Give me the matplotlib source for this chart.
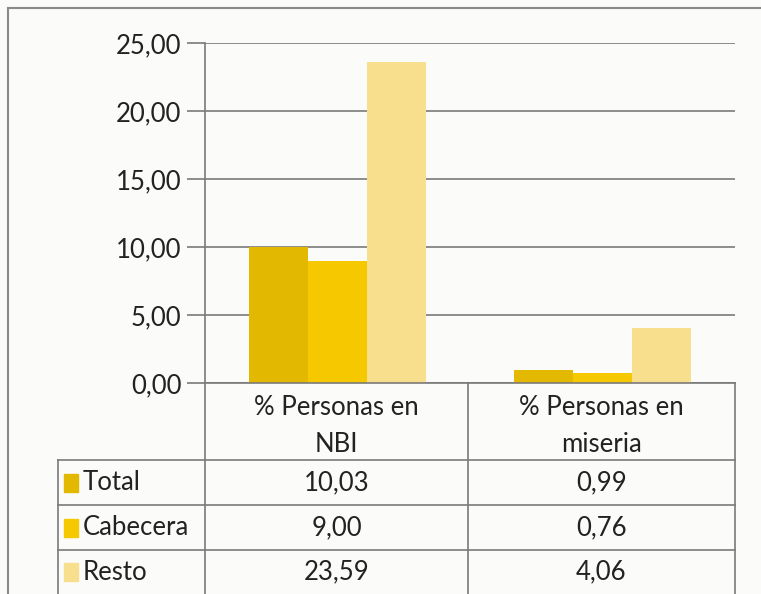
import matplotlib
matplotlib.use("Agg")
import matplotlib.pyplot as plt
import numpy as np
from matplotlib.lines import Line2D
from matplotlib.patches import Rectangle

categories = ["% Personas en\nNBI", "% Personas en\nmiseria"]
series_names = ["Total", "Cabecera", "Resto"]
total = [10.03, 0.99]
cabecera = [9.00, 0.76]
resto = [23.59, 4.06]
yticks = [0, 5, 10, 15, 20, 25]
colors = ["#E3B800", "#F6C800", "#F8DF8E"]

W, H = 761, 594
plt.rcParams['font.family'] = ['Lato', 'DejaVu Sans']
fig = plt.figure(figsize=(W / 100, H / 100), dpi=100)
fig.patch.set_facecolor("#FBFBF9")

def fx(x):
    return x / W

def fy(y):
    return 1 - y / H

ax_l, ax_r, ax_t, ax_b = 205, 735, 43, 383
ax = fig.add_axes([fx(ax_l), fy(ax_b), (ax_r - ax_l) / W, (ax_b - ax_t) / H])
ax.set_facecolor("none")

series = [total, cabecera, resto]
x = np.arange(len(categories))
bw = 0.223
for i, (vals, c) in enumerate(zip(series, colors)):
    ax.bar(x + (i - 1) * bw, vals, width=bw, color=c, zorder=3)

FS = 18.5
ax.set_xlim(-0.5, len(categories) - 0.5)
ax.set_ylim(0, 25)
ax.set_yticks(yticks)
ax.set_yticklabels([f"{v:.2f}".replace(".", ",") for v in yticks], fontsize=FS, color="#222222")
ax.grid(axis="y", color="#7A7A7A", linewidth=1.2, zorder=1)
ax.tick_params(axis="y", length=13, width=1.2, color="#7A7A7A", pad=4)
ax.set_xticks([])
for s in ["top", "right", "bottom"]:
    ax.spines[s].set_visible(False)
ax.spines["left"].set_color("#7A7A7A")
ax.spines["left"].set_linewidth(1.2)

# table
lc = "#7A7A7A"
def hline(y, x0, x1):
    fig.add_artist(Line2D([fx(x0), fx(x1)], [fy(y), fy(y)], color=lc, lw=1.2))

def vline(x_, y0, y1):
    fig.add_artist(Line2D([fx(x_), fx(x_)], [fy(y0), fy(y1)], color=lc, lw=1.2))

col_edges = [205, 468, 735]
row_edges = [460, 505, 550, 594]
hline(383, 205, 735)
for ye in row_edges[:-1]:
    hline(ye, 58, 735)
for xe in col_edges:
    vline(xe, 383, 594)
vline(58, 460, 594)

col_centers = [(col_edges[i] + col_edges[i + 1]) / 2 for i in range(len(categories))]
for cx, cat in zip(col_centers, categories):
    fig.text(fx(cx), fy(426), cat, ha="center", va="center", fontsize=FS,
             color="#222222", linespacing=1.6)

for r, (name, vals, c) in enumerate(zip(series_names, series, colors)):
    yc = (row_edges[r] + row_edges[r + 1]) / 2
    fig.add_artist(Rectangle((fx(64), fy(yc + 9)), 14 / W, 18 / H, color=c,
                             transform=fig.transFigure))
    fig.text(fx(83), fy(yc), name, ha="left", va="center", fontsize=FS, color="#222222")
    for cx, v in zip(col_centers, vals):
        fig.text(fx(cx), fy(yc), f"{v:.2f}".replace(".", ","), ha="center",
                 va="center", fontsize=FS, color="#222222")

# outer frame
fig.add_artist(Line2D([fx(8), fx(8)], [fy(8), fy(594)], color="#8A8A8A", lw=1.5))
fig.add_artist(Line2D([fx(8), fx(761)], [fy(8), fy(8)], color="#8A8A8A", lw=1.5))

fig.savefig("out.png", dpi=100, facecolor=fig.get_facecolor())
